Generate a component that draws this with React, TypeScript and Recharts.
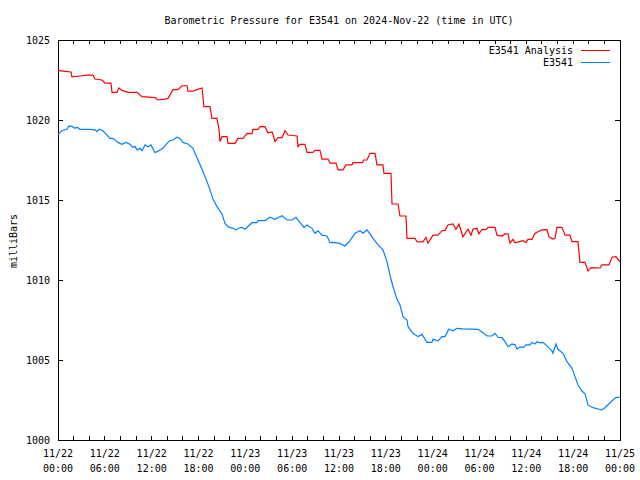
import { LineChart, Line, XAxis, YAxis, ReferenceArea } from "recharts"

// hours since 2024-11-22 00:00 UTC
const analysisHours = [
  0, 0.64, 1.67, 1.79, 2.82, 3.72, 4.48, 4.74, 5.64, 6.02, 6.79, 6.92, 7.56, 7.81, 8.2, 8.97, 10.12, 10.76,
  12.43, 12.81, 13.71, 14.09, 14.73, 15.37, 15.89, 16.53, 16.65, 17.29, 17.81, 18.45, 18.7, 19.47, 19.73,
  20.37, 20.63, 20.75, 21.01, 21.65, 21.78, 22.68, 23.06, 23.7, 24.21, 24.85, 24.98, 25.62, 25.88, 26.52,
  26.9, 27.42, 27.54, 27.8, 28.18, 28.7, 29.08, 29.46, 30.62, 30.75, 31.0, 31.64, 31.9, 32.67, 32.92, 33.56,
  33.82, 34.59, 34.85, 35.61, 35.87, 36.51, 36.89, 37.66, 37.79, 39.0, 39.14, 39.58, 39.97, 40.61, 40.87,
  41.63, 41.76, 42.66, 42.79, 43.56, 43.81, 44.58, 44.71, 45.73, 45.99, 46.76, 47.14, 47.4, 48.04, 48.68,
  49.19, 49.58, 49.96, 50.6, 50.99, 51.37, 51.88, 52.52, 52.91, 53.16, 53.68, 53.93, 54.32, 54.83, 55.09,
  55.98, 56.24, 56.88, 57.26, 57.65, 57.9, 58.29, 58.55, 59.57, 59.95, 60.21, 60.72, 61.11, 61.49, 62.0,
  62.64, 62.9, 63.41, 63.67, 63.92, 64.57, 64.95, 65.59, 65.85, 66.62, 66.87, 67.51, 67.77, 67.9, 68.28,
  69.43, 69.69, 70.59, 70.97, 71.48, 72,
]
const analysisMb = [
  1023.1, 1023.06, 1023.0, 1022.7, 1022.75, 1022.8, 1022.8, 1022.56, 1022.5, 1022.3, 1022.3, 1021.73, 1021.73,
  1022.0, 1021.85, 1021.73, 1021.73, 1021.46, 1021.4, 1021.25, 1021.3, 1021.35, 1021.9, 1021.9, 1022.14,
  1022.14, 1021.8, 1021.8, 1021.9, 1022.0, 1020.83, 1020.83, 1020.1, 1020.1, 1019.4, 1018.65, 1018.96,
  1018.96, 1018.54, 1018.54, 1018.85, 1018.85, 1019.17, 1019.15, 1019.42, 1019.42, 1019.58, 1019.58, 1019.2,
  1019.25, 1019.1, 1018.65, 1018.9, 1018.9, 1019.33, 1019.06, 1019.0, 1018.33, 1018.48, 1018.48, 1017.98,
  1017.98, 1018.1, 1018.1, 1017.56, 1017.56, 1017.3, 1017.3, 1016.88, 1016.88, 1017.19, 1017.19, 1017.33,
  1017.33, 1017.5, 1017.5, 1017.92, 1017.92, 1017.19, 1017.19, 1016.67, 1016.67, 1014.75, 1014.75, 1014.0,
  1014.0, 1012.6, 1012.6, 1012.4, 1012.38, 1012.67, 1012.3, 1012.8, 1012.8, 1013.08, 1013.1, 1013.44,
  1013.5, 1013.17, 1013.5, 1012.7, 1013.17, 1012.8, 1013.17, 1013.23, 1012.88, 1013.17, 1013.15, 1013.29,
  1013.29, 1012.8, 1012.75, 1012.88, 1012.88, 1012.3, 1012.54, 1012.33, 1012.46, 1012.35, 1012.54, 1012.54,
  1012.92, 1013.02, 1013.13, 1013.15, 1012.7, 1012.56, 1012.6, 1013.29, 1013.29, 1012.8, 1012.8, 1012.4,
  1012.4, 1011.1, 1011.1, 1010.77, 1010.56, 1010.77, 1010.75, 1010.94, 1010.94, 1011.42, 1011.46, 1011.14,
]

const sensorHours = [
  0, 0.51, 1.15, 1.41, 1.79, 2.18, 2.43, 2.82, 4.1, 4.74, 5.0, 5.25, 5.76, 6.28, 6.66, 7.05, 7.69, 8.2, 8.71,
  9.22, 9.61, 9.86, 10.12, 10.5, 10.76, 11.15, 11.53, 11.91, 12.43, 13.07, 13.45, 13.96, 14.35, 14.73,
  15.24, 15.63, 16.01, 16.65, 17.29, 17.93, 18.58, 19.09, 19.47, 19.86, 20.5, 21.01, 21.39, 21.78, 22.42,
  22.8, 23.19, 23.57, 23.96, 24.85, 25.49, 25.62, 26.52, 27.16, 27.8, 28.7, 29.34, 29.98, 30.49, 31.0,
  31.51, 31.9, 32.54, 32.92, 33.31, 33.82, 34.46, 34.85, 35.23, 36.13, 36.77, 37.41, 38.05, 38.69, 39.07,
  39.58, 39.97, 40.35, 41.0, 41.63, 42.15, 42.53, 42.92, 43.43, 43.81, 44.2, 44.71, 44.84, 45.48, 46.12,
  46.63, 47.27, 47.91, 48.04, 48.68, 49.19, 49.58, 50.09, 50.6, 51.11, 51.88, 53.8, 54.45, 54.96, 55.6,
  55.98, 56.37, 56.88, 57.26, 57.65, 58.16, 58.55, 58.8, 59.18, 59.7, 59.95, 60.47, 60.72, 61.11, 61.36,
  61.75, 62.13, 62.64, 63.28, 63.41, 63.8, 64.05, 64.69, 65.21, 65.85, 66.24, 66.62, 67.13, 67.51, 67.9,
  68.54, 69.18, 69.69, 70.07, 70.72, 71.48, 72,
]
const sensorMb = [
  1019.1, 1019.33, 1019.42, 1019.63, 1019.6, 1019.48, 1019.55, 1019.42, 1019.42, 1019.38, 1019.27, 1019.42,
  1019.33, 1019.06, 1018.85, 1018.85, 1018.6, 1018.48, 1018.6, 1018.48, 1018.29, 1018.35, 1018.13, 1018.23,
  1018.08, 1018.44, 1018.33, 1018.44, 1017.96, 1018.13, 1018.23, 1018.54, 1018.71, 1018.75, 1018.92,
  1018.85, 1018.6, 1018.5, 1018.23, 1017.5, 1016.77, 1016.15, 1015.63, 1015.04, 1014.48, 1014.13, 1013.54,
  1013.33, 1013.23, 1013.13, 1013.25, 1013.29, 1013.17, 1013.58, 1013.58, 1013.71, 1013.71, 1013.92,
  1013.79, 1014.02, 1013.75, 1013.75, 1013.92, 1013.58, 1013.29, 1013.44, 1013.23, 1012.92, 1013.08,
  1012.8, 1012.75, 1012.33, 1012.35, 1012.29, 1012.13, 1012.46, 1012.92, 1013.08, 1012.92, 1013.13,
  1012.88, 1012.6, 1012.19, 1011.88, 1011.15, 1010.31, 1009.58, 1008.79, 1008.44, 1007.71, 1007.5, 1007.08,
  1006.67, 1006.46, 1006.6, 1006.1, 1006.1, 1006.29, 1006.2, 1006.46, 1006.46, 1006.94, 1006.83, 1006.98,
  1006.95, 1006.92, 1006.71, 1006.5, 1006.5, 1006.67, 1006.42, 1006.4, 1006.15, 1005.83, 1006.0, 1005.95,
  1005.69, 1005.8, 1005.8, 1005.94, 1005.94, 1006.1, 1006.0, 1006.15, 1006.08, 1006.1, 1005.88, 1005.58,
  1005.42, 1006.0, 1005.67, 1005.42, 1004.9, 1004.48, 1003.96, 1003.44, 1003.06, 1002.88, 1002.19, 1002.02,
  1001.94, 1001.88, 1002.02, 1002.33, 1002.67, 1002.67,
]

const hourTicks = [0, 2, 4, 6, 8, 10, 12, 14, 16, 18, 20, 22, 24, 26, 28, 30, 32, 34, 36, 38, 40, 42, 44, 46, 48, 50, 52, 54, 56, 58, 60, 62, 64, 66, 68, 70, 72]
const dayLabels = ["11/22", "11/22", "11/22", "11/22", "11/23", "11/23", "11/23", "11/23", "11/24", "11/24", "11/24", "11/24", "11/25"]
const timeLabels = ["00:00", "06:00", "12:00", "18:00", "00:00", "06:00", "12:00", "18:00", "00:00", "06:00", "12:00", "18:00", "00:00"]
const pressureTicks = [1000, 1005, 1010, 1015, 1020, 1025]

const analysisData = analysisHours.map((t, i) => ({ t, mb: analysisMb[i] }))
const sensorData = sensorHours.map((t, i) => ({ t, mb: sensorMb[i] }))

const RED = "#ff0000"
const BLUE = "#0080ff"
const FONT = "'DejaVu Sans Mono', monospace"

const LEFT = 58
const RIGHT = 620
const TOP = 40
const BOTTOM = 440

function TimeTick(props: any) {
  const { x, payload } = props
  const h = payload.value
  const major = h % 6 === 0
  return (
    <g>
      <line x1={x} x2={x} y1={BOTTOM} y2={BOTTOM - 4} stroke="#000" shapeRendering="crispEdges" />
      <line x1={x} x2={x} y1={TOP} y2={TOP + 4} stroke="#000" shapeRendering="crispEdges" />
      {major && (
        <text x={x} y={456.5} textAnchor="middle" fontSize={10} fontFamily={FONT} fill="#000">
          {dayLabels[h / 6]}
        </text>
      )}
      {major && (
        <text x={x} y={471.5} textAnchor="middle" fontSize={10} fontFamily={FONT} fill="#000">
          {timeLabels[h / 6]}
        </text>
      )}
    </g>
  )
}

function PressureTick(props: any) {
  const { y, payload } = props
  return (
    <g>
      <line x1={LEFT} x2={LEFT + 5} y1={y} y2={y} stroke="#000" shapeRendering="crispEdges" />
      <line x1={RIGHT} x2={RIGHT - 5} y1={y} y2={y} stroke="#000" shapeRendering="crispEdges" />
      <text x={50} y={y + 3.5} textAnchor="end" fontSize={10} fontFamily={FONT} fill="#000">
        {payload.value}
      </text>
    </g>
  )
}

export default function App() {
  return (
    <div style={{ position: "absolute", left: 0, top: 0, width: 640, height: 480, background: "#fff" }}>
      <LineChart width={640} height={480} margin={{ top: 40, right: 20, bottom: 0, left: 0 }}>
        <XAxis
          type="number"
          dataKey="t"
          domain={[0, 72]}
          ticks={hourTicks}
          interval={0}
          height={40}
          axisLine={false}
          tickLine={false}
          tick={(p: any) => <TimeTick {...p} />}
          allowDuplicatedCategory={false}
        />
        <YAxis
          type="number"
          domain={[1000, 1025]}
          ticks={pressureTicks}
          interval={0}
          width={58}
          axisLine={false}
          tickLine={false}
          tick={(p: any) => <PressureTick {...p} />}
        />
        <ReferenceArea x1={0} x2={72} y1={1000} y2={1025} fill="none" stroke="#000" strokeWidth={1} shapeRendering="crispEdges" />
        <Line data={analysisData} dataKey="mb" name="E3541 Analysis" type="linear" stroke={RED} strokeWidth={1.2} dot={false} isAnimationActive={false} />
        <Line data={sensorData} dataKey="mb" name="E3541" type="linear" stroke={BLUE} strokeWidth={1.2} dot={false} isAnimationActive={false} />
      </LineChart>
      <svg width={640} height={480} style={{ position: "absolute", left: 0, top: 0, pointerEvents: "none" }}>
        <text x={339} y={23.5} textAnchor="middle" fontSize={10} fontFamily={FONT} fill="#000">
          Barometric Pressure for E3541 on 2024-Nov-22 (time in UTC)
        </text>
        <text transform="translate(16.5,241) rotate(-90)" textAnchor="middle" fontSize={10} fontFamily={FONT} fill="#000">
          milliBars
        </text>
        <text x={573} y={54} textAnchor="end" fontSize={10} fontFamily={FONT} fill="#000">E3541 Analysis</text>
        <line x1={581} x2={610} y1={50.5} y2={50.5} stroke={RED} strokeWidth={1} />
        <text x={573} y={66} textAnchor="end" fontSize={10} fontFamily={FONT} fill="#000">E3541</text>
        <line x1={581} x2={610} y1={62.5} y2={62.5} stroke={BLUE} strokeWidth={1} />
      </svg>
    </div>
  )
}
